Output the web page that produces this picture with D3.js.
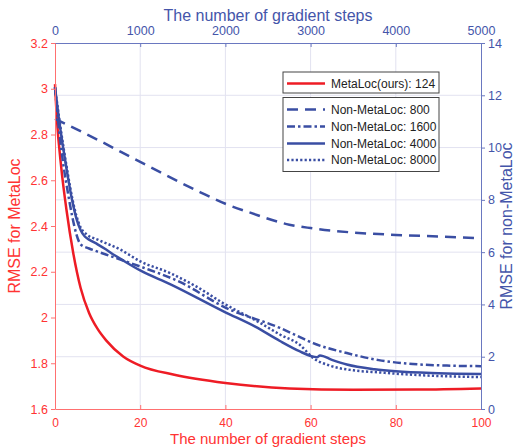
<!DOCTYPE html>
<html lang="en">
<head>
<meta charset="UTF-8">
<title>MetaLoc RMSE</title>
<script src="https://d3js.org/d3.v7.min.js"></script>
<style>
  body { margin: 0; background: #fff; }
  text { font-family: "Liberation Sans", Arial, sans-serif; }
</style>
</head>
<body>
<svg width="514" height="447"></svg>
<script>
// MetaLoc (left axis, bottom x)
var metaSteps = [0, 0.4, 1.5, 2.7, 4.3, 6, 8, 10, 12, 16, 20, 28, 40, 55, 70, 85, 100];
var metaRmse  = [3.02, 2.88, 2.65, 2.47, 2.28, 2.13, 2.02, 1.95, 1.9, 1.83, 1.79, 1.75, 1.714, 1.69, 1.684, 1.685, 1.69];

// Non-MetaLoc (right axis), x in the same 0-100 units as the bottom axis
var steps800  = [0, 10, 20, 34, 40, 46, 55, 60, 70, 80, 90, 100];
var rmse800   = [11.1, 10.3, 9.45, 8.3, 7.85, 7.5, 7.05, 6.92, 6.75, 6.66, 6.6, 6.53];
var steps1600 = [0, 1, 2, 3, 4, 5, 6, 8, 10, 13, 20, 29.3, 40, 52.8, 57.5, 60.6, 68.5, 76, 84, 92, 100];
var rmse1600  = [12.3, 10.6, 9.3, 8.3, 7.4, 6.7, 6.3, 6.14, 6.02, 5.85, 5.45, 4.86, 3.88, 3.1, 2.75, 2.52, 2.14, 1.87, 1.72, 1.66, 1.64];
var steps4000 = [0, 1, 2, 3, 4, 5, 6, 7, 8, 10, 12, 14, 16, 20, 27, 40, 47, 52.8, 57.5, 60, 61.5, 62.2, 65, 68.5, 75, 80, 90, 100];
var rmse4000  = [12.3, 11.0, 9.9, 8.9, 8.0, 7.3, 6.85, 6.6, 6.48, 6.3, 6.1, 5.88, 5.68, 5.3, 4.78, 3.7, 3.15, 2.6, 2.2, 2.03, 1.98, 2.05, 1.88, 1.7, 1.52, 1.44, 1.37, 1.34];
var steps8000 = [0, 1, 2, 3, 4, 5, 6, 7.4, 10, 15.3, 20, 27, 33, 40, 47, 52.8, 57.5, 60.6, 64.5, 70, 76, 85, 100];
var rmse8000  = [12.3, 11.1, 10.0, 9.0, 8.1, 7.4, 6.95, 6.68, 6.48, 6.1, 5.65, 5.2, 4.7, 4.0, 3.4, 2.85, 2.45, 1.95, 1.66, 1.48, 1.4, 1.3, 1.22];

var bottomTicks = [0, 20, 40, 60, 80, 100];
var topTicks = [0, 1000, 2000, 3000, 4000, 5000];
var leftTicks = [1.6, 1.8, 2, 2.2, 2.4, 2.6, 2.8, 3, 3.2];
var rightTicks = [0, 2, 4, 6, 8, 10, 12, 14];

var legendLabels = ["MetaLoc(ours): 124", "Non-MetaLoc: 800", "Non-MetaLoc: 1600", "Non-MetaLoc: 4000", "Non-MetaLoc: 8000"];

var red = "#ee1c25", blue = "#3a4ea3";
var redText = "#ff3333", blueText = "#4455aa";
var margin = {top: 43, right: 33, bottom: 38, left: 55};
var width = 514 - margin.left - margin.right;
var height = 447 - margin.top - margin.bottom;

var x = d3.scaleLinear().domain([0, 100]).range([0, width]);
var xTop = d3.scaleLinear().domain([0, 5000]).range([0, width]);
var yLeft = d3.scaleLinear().domain([1.6, 3.2]).range([height, 0]);
var yRight = d3.scaleLinear().domain([0, 14]).range([height, 0]);

var svg = d3.select("svg").append("g")
    .attr("transform", "translate(" + margin.left + "," + margin.top + ")");

// grid
svg.append("g").selectAll("line").data(bottomTicks.slice(1, -1)).enter().append("line")
    .attr("x1", function(d) { return x(d); }).attr("x2", function(d) { return x(d); })
    .attr("y1", 0).attr("y2", height)
    .attr("stroke", "#e2e2f0").attr("stroke-width", 1);
svg.append("g").selectAll("line").data(rightTicks.slice(1, -1)).enter().append("line")
    .attr("x1", 0).attr("x2", width)
    .attr("y1", function(d) { return yRight(d); }).attr("y2", function(d) { return yRight(d); })
    .attr("stroke", "#e2e2f0").attr("stroke-width", 1);

// curves
function drawLine(xs, ys, yScale, color, dash) {
    var pts = xs.map(function(v, i) { return [v, ys[i]]; });
    var line = d3.line()
        .x(function(d) { return x(d[0]); })
        .y(function(d) { return yScale(d[1]); })
        .curve(d3.curveMonotoneX);
    svg.append("path").datum(pts)
        .attr("d", line)
        .attr("fill", "none")
        .attr("stroke", color)
        .attr("stroke-width", 2.5)
        .attr("stroke-dasharray", dash);
}
drawLine(metaSteps, metaRmse, yLeft, red, null);
drawLine(steps800, rmse800, yRight, blue, "11,7");
drawLine(steps1600, rmse1600, yRight, blue, "8,3,2.5,3");
drawLine(steps4000, rmse4000, yRight, blue, null);
drawLine(steps8000, rmse8000, yRight, blue, "2.2,2.2");

// axes
function styleAxis(g, color, textColor, size) {
    g.select(".domain").attr("stroke", color);
    g.selectAll(".tick line").attr("stroke", color);
    g.selectAll("text").attr("fill", textColor).attr("font-size", size)
        .attr("font-family", "Liberation Sans, Arial, sans-serif");
}
var gb = svg.append("g").attr("transform", "translate(0," + height + ")")
    .call(d3.axisBottom(x).tickValues(bottomTicks).tickSizeInner(-4).tickSizeOuter(0).tickPadding(9.5));
styleAxis(gb, "#ff7070", redText, "12px");
var gt = svg.append("g")
    .call(d3.axisTop(xTop).tickValues(topTicks).tickFormat(d3.format("d")).tickSizeInner(-4).tickSizeOuter(0).tickPadding(8));
styleAxis(gt, "#6a78c0", blueText, "12.5px");
var gl = svg.append("g")
    .call(d3.axisLeft(yLeft).tickValues(leftTicks).tickFormat(d3.format("~g")).tickSizeInner(4).tickSizeOuter(0).tickPadding(3));
styleAxis(gl, "#ff7070", redText, "12.5px");
var gr = svg.append("g").attr("transform", "translate(" + width + ",0)")
    .call(d3.axisRight(yRight).tickValues(rightTicks).tickSizeInner(4).tickSizeOuter(0).tickPadding(3));
styleAxis(gr, "#6a78c0", blueText, "12.5px");

// axis titles
svg.append("text").attr("x", width / 2).attr("y", height + 34.7)
    .attr("text-anchor", "middle").attr("font-size", "15px").attr("fill", redText)
    .text("The number of gradient steps");
svg.append("text").attr("x", width / 2).attr("y", -22)
    .attr("text-anchor", "middle").attr("font-size", "16px").attr("fill", blueText)
    .text("The number of gradient steps");
svg.append("text").attr("transform", "rotate(-90)")
    .attr("x", -(yLeft(2.4))).attr("y", -35)
    .attr("text-anchor", "middle").attr("font-size", "16px").attr("fill", redText)
    .text("RMSE for MetaLoc");
svg.append("text").attr("transform", "rotate(-90)")
    .attr("x", -(height / 2)).attr("y", width + 31)
    .attr("text-anchor", "middle").attr("font-size", "16px").attr("fill", blueText)
    .text("RMSE for non-MetaLoc");

// legend
var leg = svg.append("g").attr("transform", "translate(" + (283 - margin.left) + "," + (72 - margin.top) + ")");
leg.append("rect").attr("x", 0).attr("y", 0).attr("width", 156).attr("height", 21)
    .attr("fill", "#fff").attr("stroke", "#444").attr("stroke-width", 1);
leg.append("rect").attr("x", 0).attr("y", 25.5).attr("width", 156).attr("height", 74)
    .attr("fill", "#fff").attr("stroke", "#444").attr("stroke-width", 1);
var legDash = [null, "11,7", "8,3,2.5,3", null, "2.2,2.2"];
var legColor = [red, blue, blue, blue, blue];
var legY = [11.5, 37.5, 54.5, 71.5, 88];
legendLabels.forEach(function(lbl, i) {
    leg.append("line").attr("x1", 4).attr("x2", 42)
        .attr("y1", legY[i]).attr("y2", legY[i])
        .attr("stroke", legColor[i]).attr("stroke-width", 2.5)
        .attr("stroke-dasharray", legDash[i]);
    leg.append("text").attr("x", 48).attr("y", legY[i]).attr("dy", "0.35em")
        .attr("font-size", "12px").attr("fill", "#222").text(lbl);
});
</script>
</body>
</html>
